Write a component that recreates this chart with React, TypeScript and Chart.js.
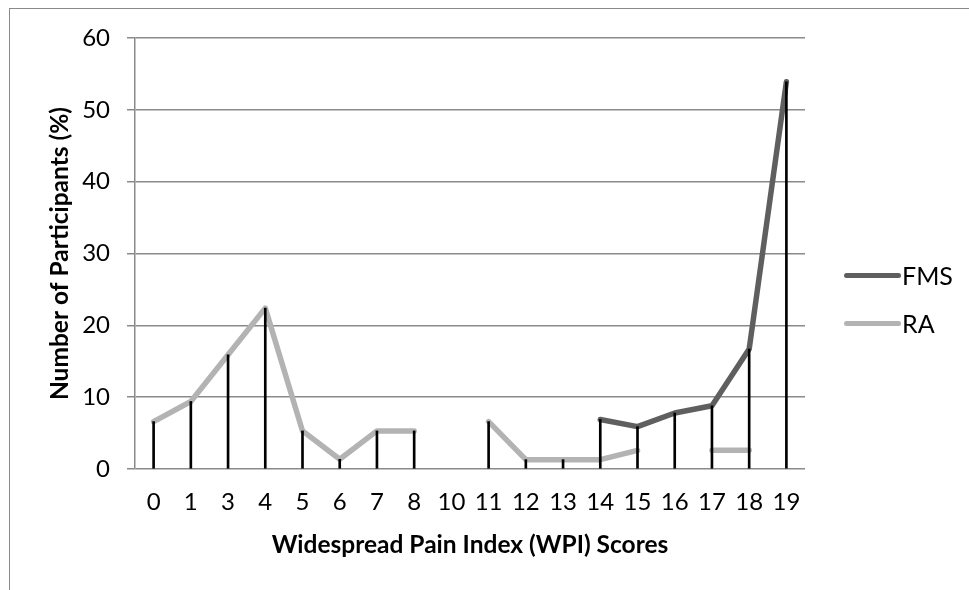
import { useEffect, useRef } from 'react';
import { Chart, registerables } from 'chart.js';

Chart.register(...registerables);

const categories = ['0', '1', '3', '4', '5', '6', '7', '8', '10', '11', '12', '13', '14', '15', '16', '17', '18', '19'];
const fmsValues: (number | null)[] = [null, null, null, null, null, null, null, null, null, null, null, null, 6.9, 5.9, 7.8, 8.8, 16.7, 53.9];
const raValues: (number | null)[] = [6.6, 9.4, 15.9, 22.4, 5.3, 1.35, 5.3, 5.3, null, 6.6, 1.3, 1.3, 1.3, 2.6, null, 2.6, 2.6, null];
const yTicks = [0, 10, 20, 30, 40, 50, 60];
const seriesNames = ['FMS', 'RA'];
const seriesColors = ['#5f5f5f', '#b3b3b3'];

const dropLines = categories.map((_, i) => {
  const vals = [fmsValues[i], raValues[i]].filter((v) => v !== null) as number[];
  return vals.length ? Math.max(...vals) : null;
});

const FONT = 'Lato, "Open Sans", sans-serif';

export default function App() {
  const ref = useRef<HTMLCanvasElement | null>(null);

  useEffect(() => {
    if (!ref.current) return;
    const chart = new Chart(ref.current, {
      type: 'line',
      data: {
        labels: categories,
        datasets: [
          {
            type: 'bar',
            label: 'drop',
            data: dropLines,
            backgroundColor: '#000000',
            barThickness: 2,
            order: 0,
          } as any,
          {
            label: seriesNames[0],
            data: fmsValues,
            borderColor: seriesColors[0],
            backgroundColor: seriesColors[0],
            borderWidth: 5.5,
            borderCapStyle: 'round',
            borderJoinStyle: 'round',
            pointRadius: 0,
            spanGaps: false,
            tension: 0,
            order: 1,
          },
          {
            label: seriesNames[1],
            data: raValues,
            borderColor: seriesColors[1],
            backgroundColor: seriesColors[1],
            borderWidth: 5.5,
            borderCapStyle: 'round',
            borderJoinStyle: 'round',
            pointRadius: 0,
            spanGaps: false,
            tension: 0,
            order: 2,
          },
        ],
      },
      options: {
        responsive: false,
        animation: false,
        devicePixelRatio: 1,
        layout: { padding: { top: 38, right: 164, bottom: 0, left: 0 } },
        plugins: {
          legend: { display: false },
          tooltip: { enabled: false },
        },
        scales: {
          x: {
            offset: true,
            grid: { display: false, drawTicks: false },
            border: { display: false },
            ticks: {
              color: '#000000',
              font: { family: FONT, size: 24 },
              padding: 19,
              maxRotation: 0,
              autoSkip: false,
            },
            title: {
              display: true,
              text: 'Widespread Pain Index (WPI) Scores',
              color: '#000000',
              font: { family: FONT, size: 24.5, weight: 'bold' },
              padding: { top: 0, bottom: 30 },
            },
            afterFit: (scale: any) => {
              scale.height = 121;
            },
          },
          y: {
            min: 0,
            max: 60,
            afterBuildTicks: (scale: any) => {
              scale.ticks = yTicks.map((v) => ({ value: v }));
            },
            grid: { color: '#8a8a8a', lineWidth: 1.5, tickLength: 8, drawTicks: true },
            border: { display: true, color: '#8a8a8a', width: 1.5 },
            ticks: {
              color: '#000000',
              font: { family: FONT, size: 24 },
              padding: 17,
            },
            title: {
              display: true,
              text: 'Number of Participants (%)',
              color: '#000000',
              font: { family: FONT, size: 24.5, weight: 'bold' },
              padding: { top: 45, bottom: 0 },
            },
            afterFit: (scale: any) => {
              scale.width = 135;
            },
          },
        },
      },
    });
    return () => chart.destroy();
  }, []);

  const legendTops = [275, 323];

  return (
    <div style={{ position: 'absolute', left: 0, top: 0, width: 969, height: 590, overflow: 'hidden', background: '#ffffff' }}>
      <div
        style={{
          position: 'absolute',
          left: 9,
          top: 8,
          width: 1200,
          height: 800,
          borderTop: '1.5px solid #8a8a8a',
          borderLeft: '1.5px solid #8a8a8a',
        }}
      />
      <canvas ref={ref} width={969} height={590} style={{ position: 'absolute', left: 0, top: 0, width: 969, height: 590 }} />
      {seriesNames.map((name, i) => (
        <div key={name} style={{ position: 'absolute', left: 844, top: legendTops[i] - 15, height: 30, display: 'flex', alignItems: 'center' }}>
          <div style={{ width: 57, height: 5, borderRadius: 3, background: seriesColors[i] }} />
          <span style={{ marginLeft: 1, fontFamily: FONT, fontSize: 25, color: '#000000', lineHeight: '30px' }}>{name}</span>
        </div>
      ))}
    </div>
  );
}
